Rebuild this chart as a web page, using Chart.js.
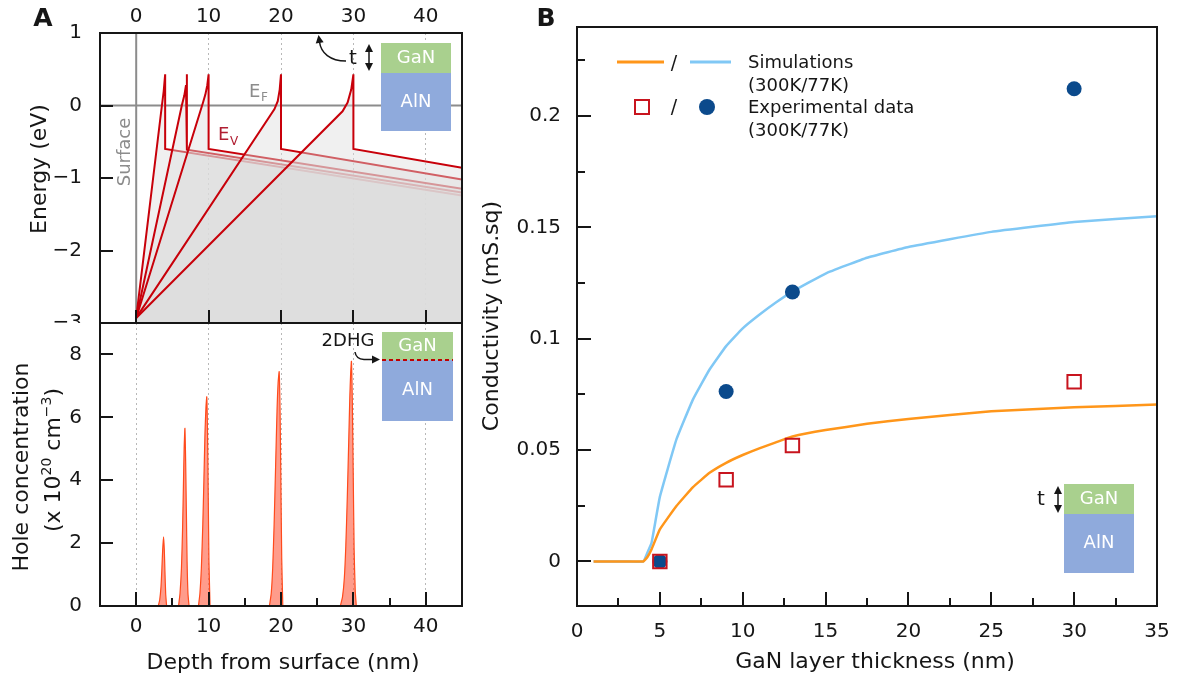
<!DOCTYPE html>
<html lang="en">
<head>
<meta charset="utf-8">
<title>GaN/AlN 2DHG</title>
<script src="https://cdn.jsdelivr.net/npm/chart.js@4.4.1/dist/chart.umd.min.js"></script>
<style>
  html, body { margin: 0; background: #fff; }
  #page { position: relative; width: 1177px; height: 681px; overflow: hidden; }
  .panel { position: absolute; }
  #panelTop { left: 0; top: 0; width: 480px; height: 336px; }
  #panelBottom { left: 0; top: 323px; width: 480px; height: 358px; background: #fff; }
  #panelB { left: 480px; top: 0; width: 697px; height: 681px; }
</style>
</head>
<body>
<div id="page">
  <div class="panel" id="panelTop"><canvas id="energyChart"></canvas></div>
  <div class="panel" id="panelBottom"><canvas id="holeChart"></canvas></div>
  <div class="panel" id="panelB"><canvas id="condChart"></canvas></div>
</div>
<script>
const FONT = "'DejaVu Sans', Verdana, sans-serif"
const INK = '#161616'

// A, top: valence band edge (eV) vs depth (nm), one curve per GaN thickness
const evDepth30 = [0, 28.5, 29.2, 29.7, 30, 30, 45]
const evEnergy30 = [-2.93, -0.08, 0.04, 0.22, 0.43, -0.6, -0.86]
const evDepth20 = [0, 19.1, 19.55, 19.82, 20, 20, 45]
const evEnergy20 = [-2.93, -0.05, 0.06, 0.22, 0.43, -0.6, -1.02]
const evDepth10 = [0, 9.2, 9.55, 9.82, 10, 10, 45]
const evEnergy10 = [-2.93, 0.03, 0.15, 0.28, 0.43, -0.6, -1.15]
const evDepth7 = [0, 6.3, 6.65, 6.88, 7, 7, 45]
const evEnergy7 = [-2.93, 0, 0.14, 0.28, 0.43, -0.61, -1.2]
const evDepth4 = [0, 3.55, 3.8, 4, 4, 45]
const evEnergy4 = [-2.93, 0, 0.2, 0.43, -0.6, -1.24]

// A, bottom: hole concentration (x 1e20 cm^-3) vs depth (nm)
const holeDepth30 = [28.2, 28.5, 28.75, 28.95, 29.15, 29.35, 29.5, 29.62, 29.73, 29.85, 29.97, 30.1, 30.25, 30.4]
const holeConc30 = [0, 0.3, 0.9, 1.9, 3.4, 5.2, 6.6, 7.4, 7.78, 6.5, 4.3, 1.8, 0.5, 0]
const holeDepth20 = [18.4, 18.65, 18.85, 19.05, 19.25, 19.45, 19.6, 19.75, 19.87, 19.98, 20.1, 20.25]
const holeConc20 = [0, 0.4, 1.2, 2.6, 4.4, 6.2, 7.1, 7.45, 6.2, 4.0, 1.5, 0]
const holeDepth10 = [8.6, 8.8, 9.0, 9.2, 9.35, 9.5, 9.63, 9.75, 9.85, 9.95, 10.05, 10.2]
const holeConc10 = [0, 0.4, 1.2, 2.6, 4.0, 5.5, 6.3, 6.65, 5.5, 3.5, 1.4, 0]
const holeDepth7 = [5.85, 6.05, 6.25, 6.4, 6.52, 6.62, 6.73, 6.83, 6.93, 7.03, 7.15, 7.3]
const holeConc7 = [0, 0.4, 1.2, 2.4, 3.8, 5.0, 5.65, 4.6, 3.0, 1.4, 0.4, 0]
const holeDepth4 = [3.05, 3.25, 3.42, 3.55, 3.66, 3.78, 3.88, 3.97, 4.07, 4.2]
const holeConc4 = [0, 0.2, 0.6, 1.2, 1.8, 2.2, 1.8, 1.1, 0.4, 0]

// B: sheet conductivity (mS.sq) vs GaN thickness (nm)
const simThickness = [1, 2, 3, 4, 4.25, 4.5, 5, 6, 7, 8, 9, 10, 11, 12, 13, 15, 17.5, 20, 25, 30, 35]
const sim300K = [0, 0, 0, 0, 0.002, 0.0055, 0.0144, 0.0249, 0.0334, 0.0398, 0.0443, 0.0478, 0.0508, 0.0535, 0.0561, 0.059, 0.0618, 0.064, 0.0674, 0.0692, 0.0705]
const sim77K = [0, 0, 0, 0, 0.004, 0.0084, 0.029, 0.0548, 0.0728, 0.0862, 0.0967, 0.1047, 0.1108, 0.1163, 0.1212, 0.1293, 0.1364, 0.1412, 0.148, 0.1524, 0.155]
const expThickness = [5, 9, 13, 30]
const exp300K = [0, 0.0367, 0.0521, 0.0807]
const exp77K = [0, 0.0763, 0.121, 0.2123]

const depthTicks = [0, 10, 20, 30, 40]
const depthMinor = [5, 15, 25, 35]
const thickMinor = [2.5, 7.5, 12.5, 17.5, 22.5, 27.5, 32.5]
const condMinor = [0.025, 0.075, 0.125, 0.175, 0.225]

const EV_RED = '#c8000a'

const $ = (id) => document.getElementById(id)
const pts = (xs, ys) => xs.map((x, i) => ({ x, y: ys[i] }))
const font = (size, weight = 'normal') => `${weight} ${size}px ${FONT}`
const minus = (v) => String(v).replace('-', '\u2212')

Chart.defaults.font.family = FONT
Chart.defaults.color = INK
Chart.defaults.animation = false
Chart.defaults.events = []
Chart.defaults.maintainAspectRatio = false
Chart.defaults.plugins.legend.display = false
Chart.defaults.plugins.tooltip.enabled = false

const fixWidth = (w) => (s) => { s.width = w; s.paddingTop = 0; s.paddingBottom = 0 }
const fixHeight = (h) => (s) => { s.height = h; s.paddingLeft = 0; s.paddingRight = 0 }
const useDepthTicks = (s) => { s.ticks = depthTicks.map(value => ({ value })) }

function text(ctx, str, x, y, o = {}) {
  ctx.save()
  ctx.font = font(o.size || 18, o.weight)
  ctx.fillStyle = o.color || INK
  ctx.textAlign = o.align || 'center'
  ctx.textBaseline = 'middle'
  ctx.translate(x, y)
  if (o.rotate) ctx.rotate(o.rotate)
  ctx.fillText(str, 0, 0)
  ctx.restore()
}

// text with small raised parts: [str, dy] (dy != 0 -> small script)
function runs(ctx, parts, x, y, size, color, rotate) {
  ctx.save()
  ctx.translate(x, y)
  if (rotate) ctx.rotate(rotate)
  ctx.fillStyle = color
  ctx.textAlign = 'left'
  ctx.textBaseline = 'alphabetic'
  const sized = parts.map(([t, dy]) => {
    ctx.font = font(dy ? Math.round(size * 0.65) : size)
    return { t, dy, w: ctx.measureText(t).width }
  })
  let cx = -sized.reduce((s, p) => s + p.w, 0) / 2
  for (const p of sized) {
    ctx.font = font(p.dy ? Math.round(size * 0.65) : size)
    ctx.fillText(p.t, cx, size * 0.36 + p.dy)
    cx += p.w
  }
  ctx.restore()
}

function head(ctx, x, y, ang, len = 8, half = 4) {
  const c = Math.cos(ang), s = Math.sin(ang)
  ctx.beginPath()
  ctx.moveTo(x, y)
  ctx.lineTo(x - len * c + half * s, y - len * s - half * c)
  ctx.lineTo(x - len * c - half * s, y - len * s + half * c)
  ctx.closePath()
  ctx.fill()
}

function doubleArrow(ctx, x, y1, y2) {
  ctx.beginPath()
  ctx.moveTo(x, y1 + 5)
  ctx.lineTo(x, y2 - 5)
  ctx.stroke()
  head(ctx, x, y1, -Math.PI / 2)
  head(ctx, x, y2, Math.PI / 2)
}

function layerStack(ctx, x, y, w, hGaN, hAlN) {
  ctx.fillStyle = '#a9d08e'
  ctx.fillRect(x, y, w, hGaN)
  ctx.fillStyle = '#8faadc'
  ctx.fillRect(x, y + hGaN, w, hAlN)
  text(ctx, 'GaN', x + w / 2, y + hGaN / 2, { size: 18, color: '#fff' })
  text(ctx, 'AlN', x + w / 2, y + hGaN + hAlN / 2, { size: 18, color: '#fff' })
}

// frame round the plot area plus inward ticks
function frameWith(marks) {
  return {
    id: 'frame',
    afterDatasetsDraw(chart) {
      const { ctx, chartArea: a, scales } = chart
      ctx.save()
      ctx.strokeStyle = INK
      ctx.lineWidth = 2
      for (const m of marks) {
        const s = scales[m.axis]
        const values = m.values || s.ticks.map(t => t.value)
        ctx.beginPath()
        for (const v of values) {
          const p = Math.round(s.getPixelForValue(v))
          if (m.side === 'left') { ctx.moveTo(a.left, p); ctx.lineTo(a.left + m.len, p) }
          else { ctx.moveTo(p, a.bottom); ctx.lineTo(p, a.bottom - m.len) }
        }
        ctx.stroke()
      }
      ctx.strokeRect(a.left, a.top, a.right - a.left, a.bottom - a.top)
      ctx.restore()
    },
  }
}

const dottedGrid = {
  drawTicks: false,
  color: (c) => (c.tick && c.tick.value === 0 && c.chart.canvas.id === 'energyChart') ? 'rgba(0,0,0,0)' : '#b8b8b8',
  lineWidth: 1,
}

// ---------- A, top ----------
const evSeries = [
  [evDepth30, evEnergy30], [evDepth20, evEnergy20], [evDepth10, evEnergy10],
  [evDepth7, evEnergy7], [evDepth4, evEnergy4],
]

const energyDecor = {
  id: 'energyDecor',
  beforeDatasetsDraw(chart) {
    const { ctx, chartArea: a, scales: { x, y } } = chart
    const x0 = x.getPixelForValue(0)
    const y0 = y.getPixelForValue(0)
    ctx.save()
    ctx.strokeStyle = '#8c8c8c'
    ctx.lineWidth = 2
    ctx.beginPath()
    ctx.moveTo(a.left, y0); ctx.lineTo(a.right, y0)
    ctx.moveTo(x0, a.top); ctx.lineTo(x0, a.bottom)
    ctx.stroke()
    ctx.restore()
  },
  afterDraw(chart) {
    const { ctx } = chart
    text(ctx, 'A', 43, 19, { size: 25, weight: 'bold' })
    text(ctx, 'Energy (eV)', 40, 169, { size: 22, rotate: -Math.PI / 2 })
    text(ctx, 'Surface', 125, 152, { size: 18, color: '#8c8c8c', rotate: -Math.PI / 2 })

    ctx.save()
    ctx.textAlign = 'left'
    ctx.textBaseline = 'alphabetic'
    ctx.fillStyle = '#8c8c8c'
    ctx.font = font(18); ctx.fillText('E', 249, 97)
    ctx.font = font(12); ctx.fillText('F', 261, 101)
    ctx.fillStyle = '#b01e32'
    ctx.font = font(18); ctx.fillText('E', 218, 140)
    ctx.font = font(12); ctx.fillText('V', 230, 145)
    ctx.restore()

    layerStack(ctx, 381, 43, 70, 30, 58)
    ctx.save()
    ctx.strokeStyle = INK
    ctx.fillStyle = INK
    ctx.lineWidth = 1.5
    text(ctx, 't', 353, 59, { size: 20 })
    doubleArrow(ctx, 369, 44, 71)
    ctx.beginPath()
    ctx.moveTo(346, 61)
    ctx.bezierCurveTo(330, 61, 321, 53, 319.5, 42)
    ctx.stroke()
    head(ctx, 318.5, 35, -Math.PI / 2 - 0.15)
    ctx.restore()
  },
}

new Chart($('energyChart'), {
  type: 'line',
  data: {
    datasets: evSeries.map(([xs, ys]) => ({
      data: pts(xs, ys),
      borderColor: EV_RED,
      borderWidth: 2,
      pointRadius: 0,
      tension: 0,
      fill: 'start',
      backgroundColor: 'rgba(220,220,220,0.43)',
    })),
  },
  options: {
    layout: { padding: { left: 0, right: 18, top: 0, bottom: 13 } },
    scales: {
      x: {
        type: 'linear', position: 'top', min: -5, max: 45,
        ticks: { padding: 4, maxRotation: 0, color: INK, font: { size: 20 } },
        afterBuildTicks: useDepthTicks,
        grid: dottedGrid,
        border: { display: false, dash: [2, 3] },
        afterFit: fixHeight(33),
      },
      y: {
        type: 'linear', min: -3, max: 1,
        ticks: { stepSize: 1, includeBounds: false, padding: 10, color: INK, font: { size: 20 }, callback: minus },
        grid: { display: false },
        border: { display: false },
        afterFit: fixWidth(100),
      },
    },
  },
  plugins: [energyDecor, frameWith([
    { axis: 'y', side: 'left', len: 13 },
    { axis: 'x', side: 'bottom', len: 13, values: depthTicks },
  ])],
})

// ---------- A, bottom ----------
const holeSeries = [
  [holeDepth30, holeConc30], [holeDepth20, holeConc20], [holeDepth10, holeConc10],
  [holeDepth7, holeConc7], [holeDepth4, holeConc4],
]

const holeDecor = {
  id: 'holeDecor',
  afterDraw(chart) {
    const { ctx } = chart
    text(ctx, 'Hole concentration', 22, 144, { size: 22, rotate: -Math.PI / 2 })
    runs(ctx, [['(x 10', 0], ['20', -9], [' cm', 0], ['\u22123', -9], [')', 0]], 52, 137, 22, INK, -Math.PI / 2)
    text(ctx, 'Depth from surface (nm)', 283, 340, { size: 22 })

    layerStack(ctx, 382, 9, 71, 28, 61)
    ctx.save()
    ctx.strokeStyle = '#c00000'
    ctx.lineWidth = 2
    ctx.setLineDash([4, 3])
    ctx.beginPath()
    ctx.moveTo(382, 37); ctx.lineTo(453, 37)
    ctx.stroke()
    ctx.setLineDash([])
    text(ctx, '2DHG', 348, 18, { size: 18 })
    ctx.strokeStyle = INK
    ctx.fillStyle = INK
    ctx.lineWidth = 1.5
    ctx.beginPath()
    ctx.moveTo(355, 29)
    ctx.quadraticCurveTo(356, 36, 364, 36.5)
    ctx.lineTo(372, 36.5)
    ctx.stroke()
    head(ctx, 380, 36.5, 0)
    ctx.restore()
  },
}

new Chart($('holeChart'), {
  type: 'line',
  data: {
    datasets: holeSeries.map(([xs, ys]) => ({
      data: pts(xs, ys),
      borderColor: '#ff4a1c',
      borderWidth: 1.2,
      pointRadius: 0,
      tension: 0.2,
      fill: 'origin',
      backgroundColor: 'rgba(255,85,55,0.58)',
    })),
  },
  options: {
    layout: { padding: { left: 0, right: 18, top: 0, bottom: 0 } },
    scales: {
      x: {
        type: 'linear', min: -5, max: 45,
        ticks: { padding: 9, maxRotation: 0, color: INK, font: { size: 20 } },
        afterBuildTicks: useDepthTicks,
        grid: dottedGrid,
        border: { display: false, dash: [2, 3] },
        afterFit: fixHeight(75),
      },
      y: {
        type: 'linear', min: 0, max: 9,
        ticks: { stepSize: 2, includeBounds: false, padding: 10, color: INK, font: { size: 20 } },
        grid: { display: false },
        border: { display: false },
        afterFit: fixWidth(100),
      },
    },
  },
  plugins: [holeDecor, frameWith([
    { axis: 'y', side: 'left', len: 13 },
    { axis: 'x', side: 'bottom', len: 14 },
    { axis: 'x', side: 'bottom', len: 8, values: depthMinor },
  ])],
})

// ---------- B ----------
const ORANGE = '#ff961a'
const SKY = '#80c8f5'
const SQUARE_RED = '#c8141e'
const NAVY = '#0b4a8c'

const condDecor = {
  id: 'condDecor',
  afterDraw(chart) {
    const { ctx } = chart
    text(ctx, 'B', 66, 19, { size: 25, weight: 'bold' })
    text(ctx, 'Conductivity (mS.sq)', 12, 316, { size: 22, rotate: -Math.PI / 2 })
    text(ctx, 'GaN layer thickness (nm)', 395, 662, { size: 22 })

    ctx.save()
    ctx.lineWidth = 3
    ctx.strokeStyle = ORANGE
    ctx.beginPath(); ctx.moveTo(137, 62); ctx.lineTo(184, 62); ctx.stroke()
    ctx.strokeStyle = SKY
    ctx.beginPath(); ctx.moveTo(210, 62); ctx.lineTo(251, 62); ctx.stroke()
    ctx.lineWidth = 2
    ctx.strokeStyle = SQUARE_RED
    ctx.strokeRect(155, 100, 14, 14)
    ctx.fillStyle = NAVY
    ctx.beginPath(); ctx.arc(227, 107, 8, 0, Math.PI * 2); ctx.fill()
    ctx.restore()
    text(ctx, '/', 194, 64, { size: 19 })
    text(ctx, '/', 194, 108, { size: 19 })
    text(ctx, 'Simulations', 268, 63, { size: 18, align: 'left' })
    text(ctx, '(300K/77K)', 268, 86, { size: 18, align: 'left' })
    text(ctx, 'Experimental data', 268, 108, { size: 18, align: 'left' })
    text(ctx, '(300K/77K)', 268, 131, { size: 18, align: 'left' })

    layerStack(ctx, 584, 484, 70, 30, 59)
    ctx.save()
    ctx.strokeStyle = INK
    ctx.fillStyle = INK
    ctx.lineWidth = 1.5
    text(ctx, 't', 561, 500, { size: 20 })
    doubleArrow(ctx, 578, 486, 513)
    ctx.restore()
  },
}

new Chart($('condChart'), {
  type: 'line',
  data: {
    datasets: [
      {
        data: pts(expThickness, exp300K), showLine: false,
        pointStyle: 'rect', pointRadius: 9.5, pointBorderWidth: 2,
        pointBorderColor: SQUARE_RED, pointBackgroundColor: 'rgba(0,0,0,0)',
      },
      {
        data: pts(expThickness, exp77K), showLine: false,
        pointStyle: 'circle', pointRadius: 7.5, pointBorderWidth: 0,
        pointBackgroundColor: NAVY, pointBorderColor: NAVY,
      },
      {
        data: pts(simThickness, sim300K), borderColor: ORANGE, borderWidth: 2.5,
        pointRadius: 0, tension: 0.1, fill: false,
      },
      {
        data: pts(simThickness, sim77K), borderColor: SKY, borderWidth: 2.5,
        pointRadius: 0, tension: 0.1, fill: false,
      },
    ],
  },
  options: {
    layout: { padding: { left: 0, right: 20, top: 27, bottom: 0 } },
    scales: {
      x: {
        type: 'linear', min: 0, max: 35,
        ticks: { stepSize: 5, includeBounds: false, padding: 6, maxRotation: 0, color: INK, font: { size: 20 } },
        grid: { display: false },
        border: { display: false },
        afterFit: fixHeight(75),
      },
      y: {
        type: 'linear', min: -0.02, max: 0.24,
        ticks: {
          stepSize: 0.05, includeBounds: false, padding: 8, color: INK, font: { size: 20 },
          callback: (v) => String(+v.toFixed(3)),
        },
        grid: { display: false },
        border: { display: false },
        afterFit: fixWidth(97),
      },
    },
  },
  plugins: [condDecor, frameWith([
    { axis: 'y', side: 'left', len: 14 },
    { axis: 'y', side: 'left', len: 8, values: condMinor },
    { axis: 'x', side: 'bottom', len: 14 },
    { axis: 'x', side: 'bottom', len: 8, values: thickMinor },
  ])],
})
</script>
</body>
</html>
